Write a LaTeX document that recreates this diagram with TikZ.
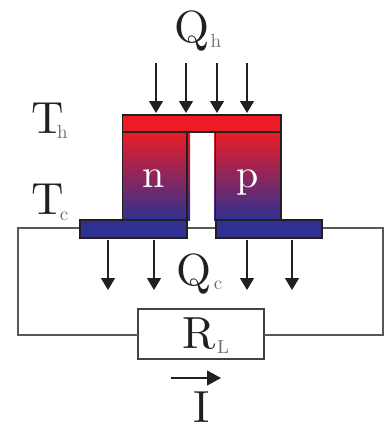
\documentclass[tikz,border=0pt]{standalone}
\usetikzlibrary{arrows.meta}
\definecolor{hotred}{RGB}{237,28,36}
\definecolor{coldblue}{RGB}{46,49,146}
\definecolor{inkd}{RGB}{35,31,32}
\tikzset{
  plate/.style={draw=inkd,line width=1.3pt},
  legfill/.style={top color=hotred,bottom color=coldblue,middle color=hotred!50!coldblue},
  legline/.style={draw=inkd,line width=1.2pt},
  heat/.style={draw=inkd,line width=1.1pt,-{Triangle[length=12pt,width=14pt]}},
  wire/.style={draw=inkd!75,line width=1.5pt},
  big/.style={font=\normalsize,scale=4.5,text=inkd,inner sep=0pt,anchor=base},
  small/.style={font=\normalsize,scale=1.9,text=inkd!65,inner sep=0pt,anchor=base},
  letter/.style={font=\normalsize,scale=4,text=white,inner sep=0pt,anchor=base},
  pt/.style={inner sep=0pt,outer sep=0pt}
}
\begin{document}
\begin{tikzpicture}[x=1pt,y=-1pt]
\useasboundingbox (0,0) rectangle (384,426);
% wires
\coordinate (wl) at (18,228);
\coordinate (wlb) at (18,335);
\coordinate (wr) at (383,228);
\coordinate (wrb) at (383,335);
\node[pt,draw=inkd!85,minimum width=126pt,minimum height=50pt,line width=1.3pt,fill=white] (load) at (201,334) {};
\node[pt] (cl) at (133.5,228) {};
\node[pt] (cr) at (269,228) {};
\draw[wire] (cl.center) -- (wl) -- (wlb) -- (wlb-|load.west);
\draw[wire] (cr.center) -- (wr) -- (wrb) -- (wrb-|load.east);
\draw[wire] (cl.center) -- (cr.center);
% legs
\path[legfill] (122.5,131) rectangle (190,220);
\path[legfill] (214,131) rectangle (281,220);
\draw[legline] (122.5,131) rectangle (187,220);
\draw[legline] (215.5,131) rectangle (281,220);
% plates
\path[plate,fill=hotred] (122.5,115) rectangle (281,132);
\path[plate,fill=coldblue] (80,220) rectangle (187,238);
\path[plate,fill=coldblue] (216,220) rectangle (322,238);
% heat arrows
\foreach \x in {156,186,217,247} \draw[heat] (\x,63) -- (\x,113);
\foreach \x in {108,154,247,292} \draw[heat] (\x,240) -- (\x,290);
% current arrow
\coordinate (ia) at (171,378);
\coordinate (ib) at (221,378);
\draw[draw=inkd,line width=1.1pt,-{Triangle[length=14pt,width=15pt]}] (ia) -- (ib);
% labels
\node[big] (qh) at (192,42) {Q};
\node[small] (qhs) at (216,47) {h};
\node[big] (th) at (47.5,133) {T};
\node[small] (ths) at (62.5,138) {h};
\node[big] (tc) at (47.5,214) {T};
\node[small] (tcs) at (64,220) {c};
\node[letter] (n) at (154,187) {n};
\node[letter] (p) at (248,187) {p};
\node[big] (qc) at (194,285) {Q};
\node[small] (qcs) at (218,289) {c};
\node[big] (rl) at (199,348) {R};
\node[small] (rls) at (223,353) {L};
\node[big] (cur) at (202,422) {I};
\end{tikzpicture}
\end{document}
